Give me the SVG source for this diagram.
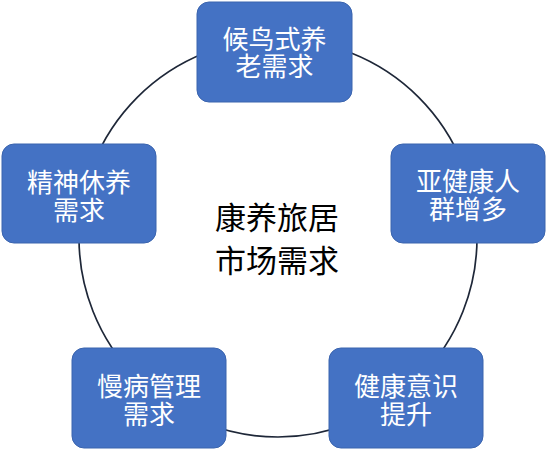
<svg xmlns="http://www.w3.org/2000/svg" width="547" height="451" viewBox="0 0 547 451">
<style>
.box{fill:#4472C4;stroke:#3A64AE;stroke-width:1}
.bt{font-family:"Noto Sans CJK SC","Noto Sans",sans-serif;font-size:26px;fill:#fff;text-anchor:middle;dominant-baseline:central}
.ct{font-family:"Noto Sans CJK SC","Noto Sans",sans-serif;font-size:31px;fill:#000;text-anchor:middle;dominant-baseline:central}
</style>
<rect width="547" height="451" fill="#fff"/>
<g id="connectors">
<circle cx="278" cy="238" r="199" fill="none" stroke="#1E2738" stroke-width="1.7"/>
</g>
<g id="center">
<text class="ct" x="277" y="215">康养旅居</text>
<text class="ct" x="277" y="258">市场需求</text>
</g>
<g id="n1">
<rect class="box" x="197" y="2" width="155" height="100" rx="12"/>
<text class="bt" x="274.5" y="37">候鸟式养</text>
<text class="bt" x="274.5" y="64">老需求</text>
</g>
<g id="n2">
<rect class="box" x="391" y="144" width="154" height="99" rx="12"/>
<text class="bt" x="468" y="179">亚健康人</text>
<text class="bt" x="468" y="207">群增多</text>
</g>
<g id="n3">
<rect class="box" x="329" y="348" width="154" height="100" rx="12"/>
<text class="bt" x="406" y="384">健康意识</text>
<text class="bt" x="406" y="412">提升</text>
</g>
<g id="n4">
<rect class="box" x="72" y="348" width="154" height="100" rx="12"/>
<text class="bt" x="149" y="384">慢病管理</text>
<text class="bt" x="149" y="412">需求</text>
</g>
<g id="n5">
<rect class="box" x="2" y="144" width="154" height="99" rx="12"/>
<text class="bt" x="79" y="180">精神休养</text>
<text class="bt" x="79" y="208">需求</text>
</g>
</svg>
